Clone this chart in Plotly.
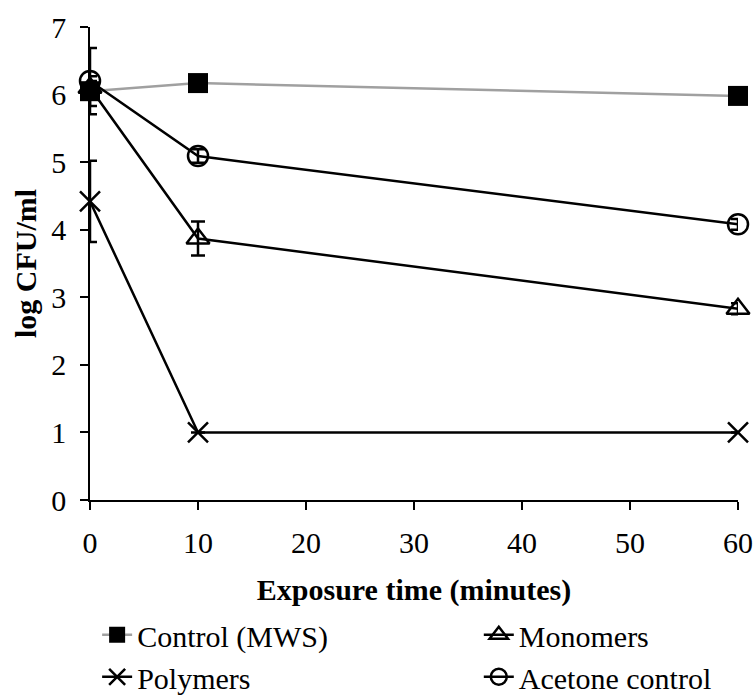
import plotly.graph_objects as go

time = [0, 10, 60]
control = [6.05, 6.17, 5.98]
control_err = [0.22, 0.0, 0.0]
monomers = [6.1, 3.87, 2.83]
monomers_err = [0.1, 0.25, 0.08]
polymers = [4.42, 1.0, 1.0]
polymers_err = [0.6, 0.0, 0.0]
acetone = [6.2, 5.09, 4.08]
acetone_err = [0.49, 0.1, 0.08]

FONT = "Liberation Serif"

def err(vals):
    return dict(type="data", array=vals, visible=True, color="black", thickness=2.5, width=7)

fig = go.Figure()
fig.add_trace(go.Scatter(x=time, y=control, name="Control (MWS)", mode="lines+markers",
                         line=dict(color="#a0a0a0", width=2.5),
                         marker=dict(symbol="square", size=20, color="black"),
                         error_y=err(control_err), legend="legend"))
fig.add_trace(go.Scatter(x=time, y=monomers, name="Monomers", mode="lines+markers",
                         line=dict(color="black", width=2.5),
                         marker=dict(symbol="triangle-up-open", size=20, color="black", line=dict(width=2.5)),
                         error_y=err(monomers_err), legend="legend2"))
fig.add_trace(go.Scatter(x=time, y=polymers, name="Polymers", mode="lines+markers",
                         line=dict(color="black", width=2.5),
                         marker=dict(symbol="x-thin", size=20, color="black", line=dict(width=2.5, color="black")),
                         error_y=err(polymers_err), legend="legend"))
fig.add_trace(go.Scatter(x=time, y=acetone, name="Acetone control", mode="lines+markers",
                         line=dict(color="black", width=2.5),
                         marker=dict(symbol="circle-open", size=20, color="black", line=dict(width=2.5)),
                         error_y=err(acetone_err), legend="legend2"))

leg_common = dict(orientation="v", xref="paper", yref="container",
                  xanchor="left", yanchor="top", y=0.124,
                  font=dict(family=FONT, size=30, color="black"),
                  bgcolor="rgba(0,0,0,0)", traceorder="normal",
                  tracegroupgap=0)

fig.update_layout(
    width=755, height=695,
    margin=dict(l=90, r=17, t=27, b=195),
    paper_bgcolor="white", plot_bgcolor="white",
    font=dict(family=FONT, size=30, color="black"),
    showlegend=True,
    legend=dict(x=0.011, **leg_common),
    legend2=dict(x=0.600, **leg_common),
    xaxis=dict(range=[0, 60], tickvals=[0, 10, 20, 30, 40, 50, 60],
               showline=True, linecolor="black", linewidth=1.5,
               ticks="outside", ticklen=8, tickwidth=1.5, tickcolor="black",
               tickfont=dict(family=FONT, size=30, color="black"),
               ticklabelstandoff=7,
               showgrid=False, zeroline=False, automargin=False,
               title=dict(text="<b>Exposure time (minutes)</b>", standoff=21,
                          font=dict(family=FONT, size=30, color="black"))),
    yaxis=dict(range=[0, 7], tickvals=[0, 1, 2, 3, 4, 5, 6, 7],
               showline=True, linecolor="black", linewidth=1.5,
               ticks="outside", ticklen=8, tickwidth=1.5, tickcolor="black",
               tickfont=dict(family=FONT, size=30, color="black"),
               ticklabelstandoff=8,
               showgrid=False, zeroline=False, automargin=False,
               title=dict(text="<b>log CFU/ml</b>", standoff=6,
                          font=dict(family=FONT, size=30, color="black"))),
)
for tr in fig.data:
    tr.cliponaxis = False

fig.write_html("out.html")
